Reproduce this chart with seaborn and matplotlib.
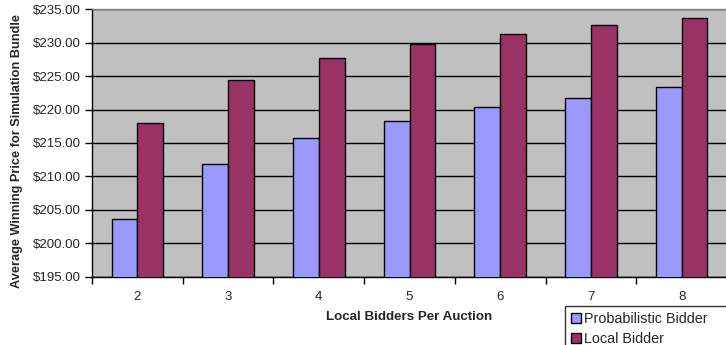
import matplotlib
matplotlib.use("Agg")
import matplotlib.pyplot as plt
import seaborn as sns
import pandas as pd
import numpy as np

categories = ["2", "3", "4", "5", "6", "7", "8"]
probabilistic = [203.63, 211.86, 215.75, 218.34, 220.39, 221.73, 223.33]
local = [218.04, 224.38, 227.67, 229.76, 231.36, 232.66, 233.65]
series_names = ["Probabilistic Bidder", "Local Bidder"]
y_ticks = [195, 200, 205, 210, 215, 220, 225, 230, 235]

df = pd.DataFrame({
    "Local Bidders Per Auction": categories * 2,
    "price": probabilistic + local,
    "series": [series_names[0]] * len(categories) + [series_names[1]] * len(categories),
})

sns.set_theme(style="white")
plt.rcParams["font.family"] = ["Liberation Sans", "DejaVu Sans"]

fig = plt.figure(figsize=(7.26, 3.45), dpi=100)
ax = fig.add_axes([92 / 726, 1 - 276.7 / 345, 635 / 726, (276.7 - 9.3) / 345])
ax.set_facecolor("#C0C0C0")

sns.barplot(data=df, x="Local Bidders Per Auction", y="price", hue="series",
            palette=["#9999FF", "#993366"], width=0.57, gap=0,
            edgecolor="black", linewidth=1.0, saturation=1, ax=ax, zorder=3)

ax.set_ylim(195, 235)
ax.set_yticks(y_ticks)
ax.set_yticklabels([f"${v:.2f}" for v in y_ticks], fontsize=9.5)
ax.set_xlim(-0.5, len(categories) - 0.5)
ax.grid(axis="y", color="black", linewidth=1.0, zorder=1)
ax.set_axisbelow(True)

ax.tick_params(axis="y", which="major", direction="out", length=5, width=1,
               color="black", pad=3, left=True)
ax.tick_params(axis="x", which="major", length=0, pad=10, labelsize=9.5)
ax.set_xticks(np.arange(-0.5, len(categories) + 0.5, 1), minor=True)
ax.tick_params(axis="x", which="minor", direction="out", length=5, width=1,
               color="black", bottom=True)

for s in ["left", "bottom"]:
    ax.spines[s].set_color("black")
    ax.spines[s].set_linewidth(1.0)
for s in ["top", "right"]:
    ax.spines[s].set_color("#808080")
    ax.spines[s].set_linewidth(1.0)

ax.set_xlabel("Local Bidders Per Auction", fontsize=9.6, fontweight="bold", labelpad=6)
ax.set_ylabel("")
fig.text(17 / 726, 1 - 151 / 345, "Average Winning Price for Simulation Bundle",
         rotation=90, ha="center", va="center", fontsize=9.2, fontweight="bold")

ax.legend_.remove()
handles = [plt.Rectangle((0, 0), 1, 1, facecolor=c, edgecolor="black", linewidth=1)
           for c in ["#9999FF", "#993366"]]
leg = fig.legend(handles, series_names, loc="upper left",
                 bbox_to_anchor=(565 / 726, 1 - 306 / 345, 175 / 726, 0.0),
                 mode="expand", fontsize=10.4,
                 frameon=True, fancybox=False, handlelength=0.7, handleheight=0.7,
                 handletextpad=0.25, borderpad=0.4, labelspacing=0.45,
                 borderaxespad=0)
leg.get_frame().set_edgecolor("black")
leg.get_frame().set_linewidth(1.0)

fig.savefig("out.png", dpi=100)
